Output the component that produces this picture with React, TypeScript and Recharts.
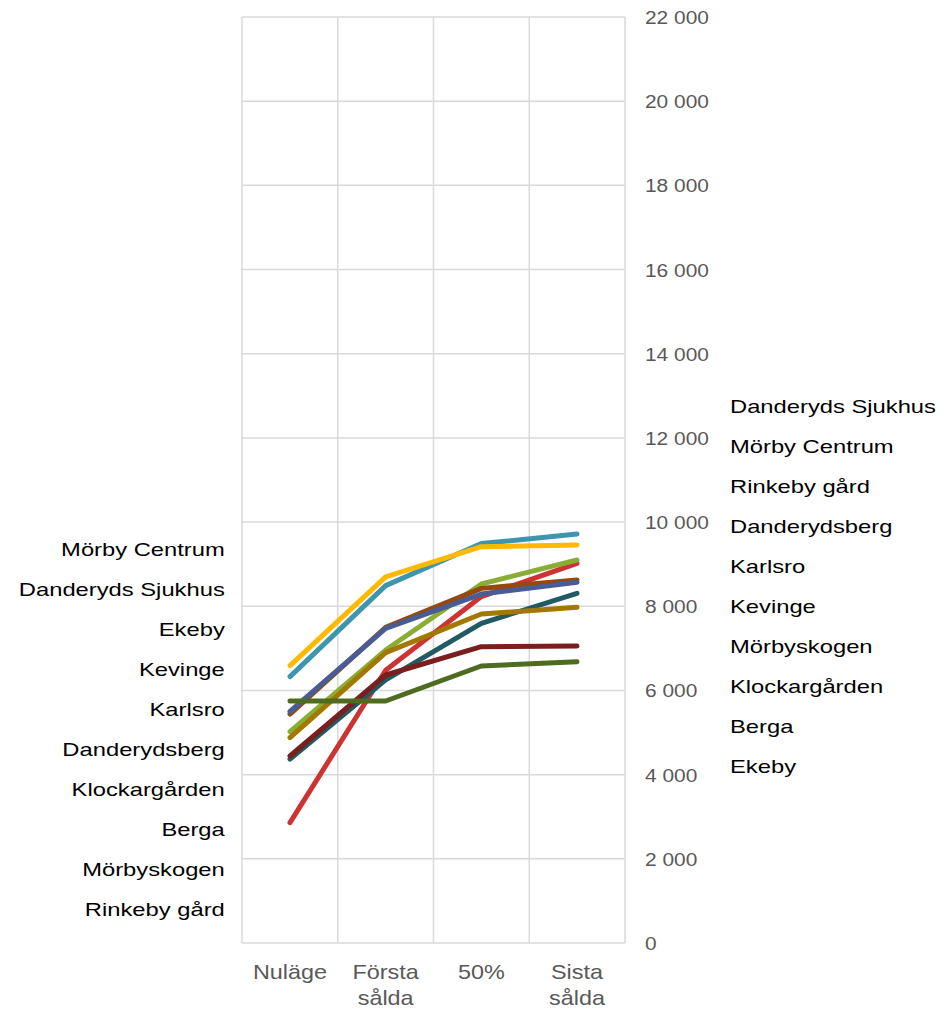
import { LineChart, Line, XAxis, YAxis, CartesianGrid } from 'recharts'

const stages = ['Nuläge', 'Första sålda', '50%', 'Sista sålda']

// one array per area, values per stage
const danderydsSjukhus = [6330, 8490, 9490, 9717]
const morbyCentrum = [6590, 8700, 9415, 9456]
const rinkebyGard = [2860, 6480, 8230, 9020]
const danderydsberg = [5020, 6960, 8530, 9100]
const karlsro = [5440, 7500, 8425, 8624]
const kevinge = [5500, 7476, 8290, 8570]
const morbyskogen = [4370, 6250, 7594, 8307]
const klockargarden = [4880, 6900, 7817, 7974]
const berga = [4443, 6367, 7040, 7056]
const ekeby = [5750, 5750, 6581, 6683]

const yTicks = [0, 2000, 4000, 6000, 8000, 10000, 12000, 14000, 16000, 18000, 20000, 22000]

// ranking lists shown beside the plot
const leftOrder = [
  'Mörby Centrum',
  'Danderyds Sjukhus',
  'Ekeby',
  'Kevinge',
  'Karlsro',
  'Danderydsberg',
  'Klockargården',
  'Berga',
  'Mörbyskogen',
  'Rinkeby gård',
]
const rightOrder = [
  'Danderyds Sjukhus',
  'Mörby Centrum',
  'Rinkeby gård',
  'Danderydsberg',
  'Karlsro',
  'Kevinge',
  'Mörbyskogen',
  'Klockargården',
  'Berga',
  'Ekeby',
]

const series = [
  { key: 'Danderyds Sjukhus', values: danderydsSjukhus, color: '#3e96ae' },
  { key: 'Mörby Centrum', values: morbyCentrum, color: '#ffb900' },
  { key: 'Rinkeby gård', values: rinkebyGard, color: '#cd3333' },
  { key: 'Danderydsberg', values: danderydsberg, color: '#8aae35' },
  { key: 'Karlsro', values: karlsro, color: '#95490c' },
  { key: 'Kevinge', values: kevinge, color: '#4a5c94' },
  { key: 'Mörbyskogen', values: morbyskogen, color: '#215a64' },
  { key: 'Klockargården', values: klockargarden, color: '#a27800' },
  { key: 'Berga', values: berga, color: '#7a1e1e' },
  { key: 'Ekeby', values: ekeby, color: '#4e6b20' },
]

const data = stages.map((stage, i) => {
  const row: Record<string, string | number> = { stage }
  series.forEach((s) => {
    row[s.key] = s.values[i]
  })
  return row
})

const font = '"Liberation Sans", Arial, sans-serif'

function formatTick(v: number) {
  return String(v).replace(/\B(?=(\d{3})+(?!\d))/g, ' ')
}

// the text in this chart is a bit wider than plain Arial, so it is stretched sideways
function StageTick({ x, y, payload }: { x?: number; y?: number; payload?: { value: string } }) {
  const words = (payload?.value ?? '').split(' ')
  return (
    <g transform={`translate(${x},${y}) scale(1.17,1)`}>
      <text x={0} y={0} textAnchor="middle" fill="#595959" fontSize={20} fontFamily={font}>
        {words.map((w, i) => (
          <tspan key={w} x={0} dy={i === 0 ? 28 : 26}>
            {w}
          </tspan>
        ))}
      </text>
    </g>
  )
}

function ValueTick({ x, y, payload }: { x?: number; y?: number; payload?: { value: number } }) {
  return (
    <g transform={`translate(${x},${y}) scale(1.1,1)`}>
      <text x={0} y={0} dy={7} textAnchor="start" fill="#595959" fontSize={19} fontFamily={font}>
        {formatTick(payload?.value ?? 0)}
      </text>
    </g>
  )
}

const labelStyle = {
  position: 'absolute' as const,
  fontFamily: font,
  fontSize: 19,
  color: '#000',
  lineHeight: '40px',
  whiteSpace: 'nowrap' as const,
}

export default function App() {
  return (
    <div style={{ position: 'absolute', left: 0, top: 0, width: 951, height: 1010, background: '#fff' }}>
      <LineChart
        width={951}
        height={1010}
        data={data}
        margin={{ top: 17, right: 226, left: 242, bottom: 37 }}
      >
        <CartesianGrid
          stroke="#d9d9d9"
          strokeWidth={1.5}
          verticalCoordinatesGenerator={({ offset }: any) =>
            stages.concat('').map((_, i) => offset.left + (i * offset.width) / stages.length)
          }
        />
        <XAxis
          dataKey="stage"
          height={30}
          interval={0}
          padding={{ left: 48, right: 48 }}
          axisLine={false}
          tickLine={false}
          tick={<StageTick />}
        />
        <YAxis
          orientation="right"
          width={100}
          domain={[0, 22000]}
          ticks={yTicks}
          interval={0}
          axisLine={false}
          tickLine={false}
          tickSize={0}
          tickMargin={20}
          tick={<ValueTick />}
        />
        {series.map((s) => (
          <Line
            key={s.key}
            dataKey={s.key}
            stroke={s.color}
            strokeWidth={5}
            strokeLinecap="round"
            strokeLinejoin="round"
            dot={false}
            activeDot={false}
            isAnimationActive={false}
          />
        ))}
      </LineChart>
      <div
        style={{
          ...labelStyle,
          right: 951 - 225,
          top: 530,
          textAlign: 'right',
          transform: 'scaleX(1.25)',
          transformOrigin: 'right center',
        }}
      >
        {leftOrder.map((name) => (
          <div key={name}>{name}</div>
        ))}
      </div>
      <div
        style={{
          ...labelStyle,
          left: 730,
          top: 387,
          textAlign: 'left',
          transform: 'scaleX(1.25)',
          transformOrigin: 'left center',
        }}
      >
        {rightOrder.map((name) => (
          <div key={name}>{name}</div>
        ))}
      </div>
    </div>
  )
}
